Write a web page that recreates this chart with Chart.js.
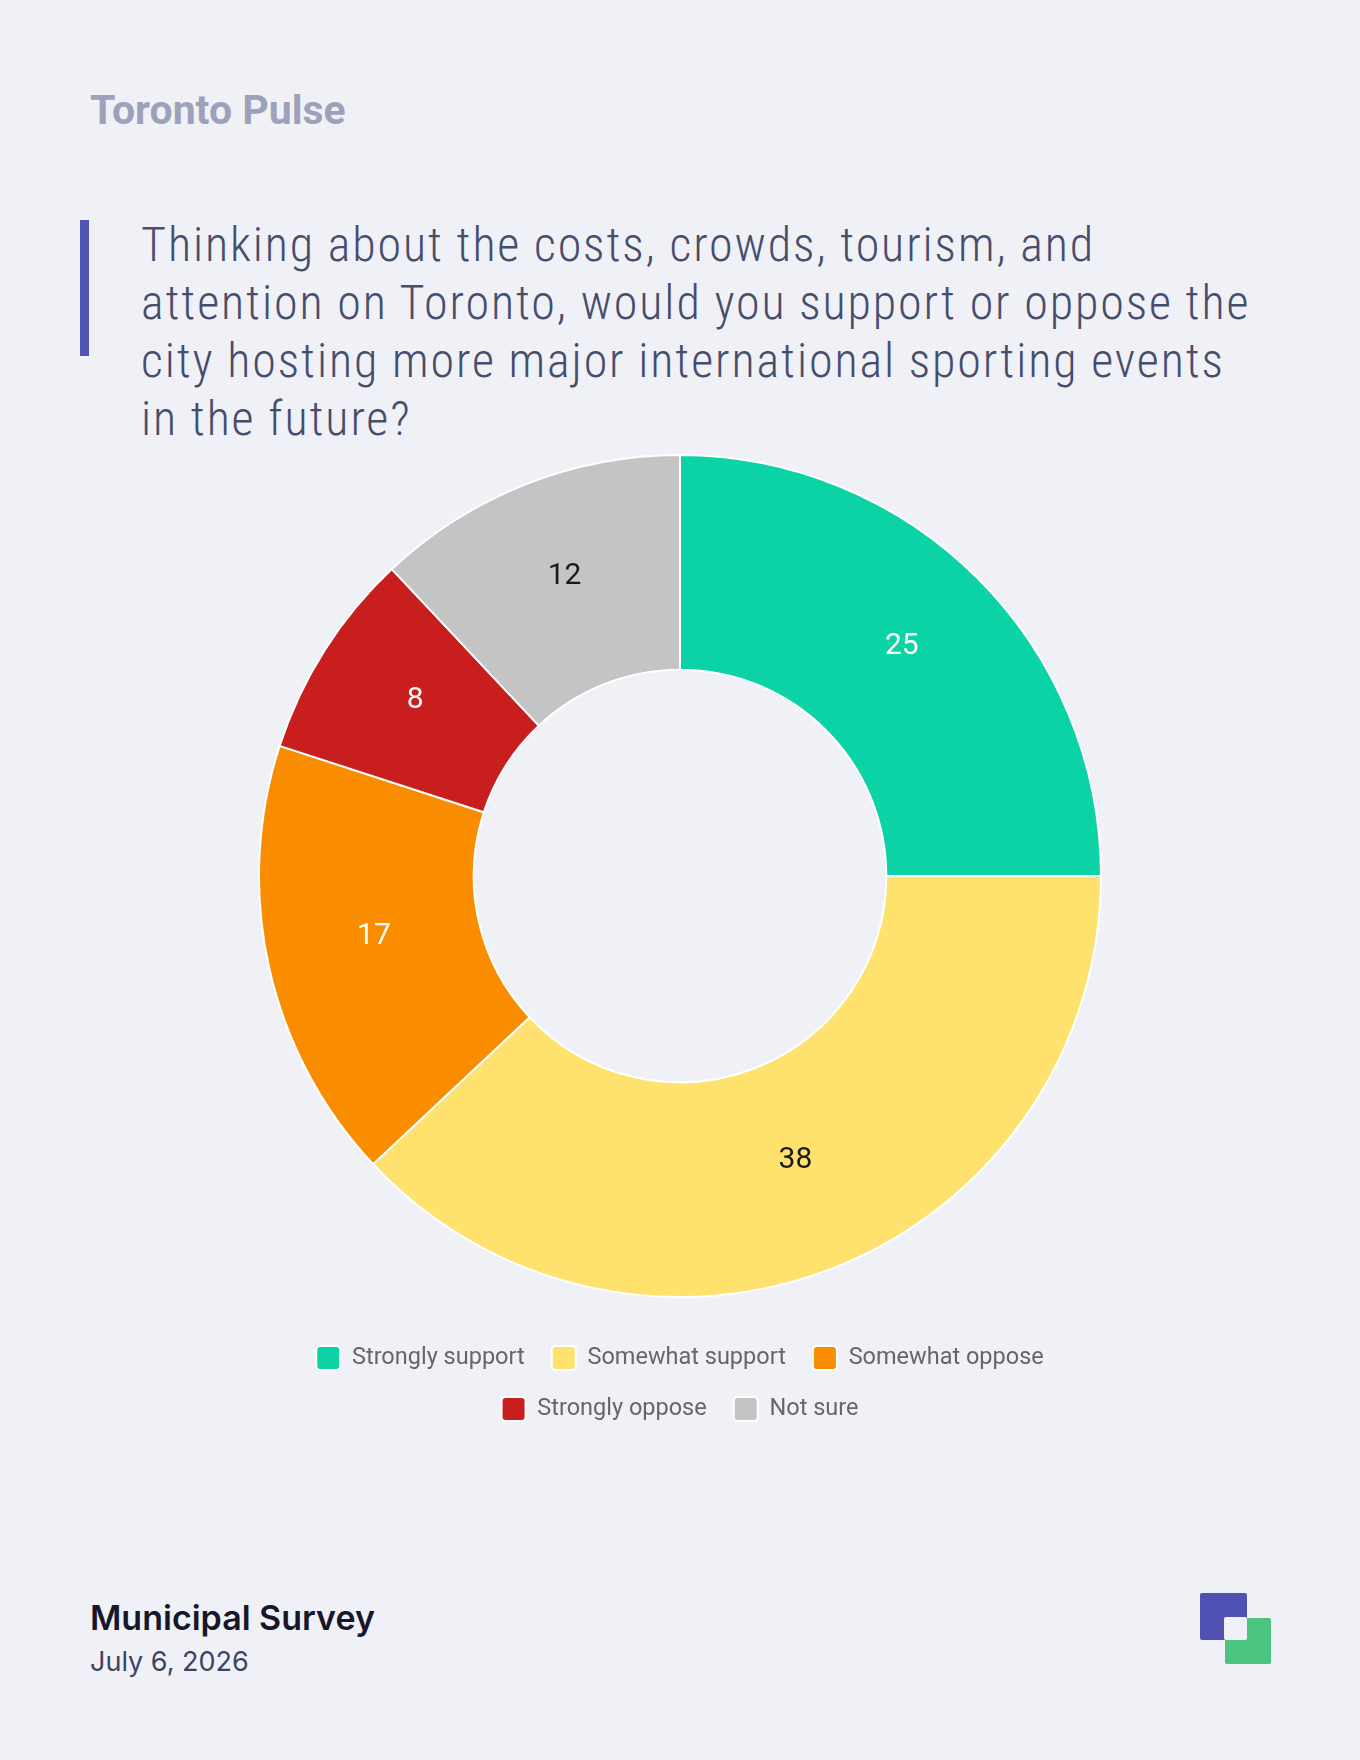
<!DOCTYPE html>
<html>
<head>
<meta charset="utf-8">
<script src="https://cdn.jsdelivr.net/npm/chart.js@4.4.1/dist/chart.umd.min.js"></script>
<style>
  html, body { margin: 0; padding: 0; }
  body { width: 1360px; height: 1760px; background: #f0f1f6; position: relative; overflow: hidden; }
  .brand { position: absolute; left: 90px; top: 90px; font: 700 41px/1 Roboto, sans-serif; color: #9ba2ba; }
  .bar { position: absolute; left: 80px; top: 220px; width: 9px; height: 136px; background: #4f55b5; }
  .question { position: absolute; left: 141px; top: 216px; width: 1180px; font: 300 48px/58px "Roboto Condensed", "DejaVu Sans Condensed", sans-serif; letter-spacing: 1.9px; color: #474d6d; }
  .chart-wrap { position: absolute; left: 258px; top: 433px; width: 844px; height: 998px; }
  .source { position: absolute; left: 90px; top: 1601px; font: 600 34px/1 Inter, sans-serif; color: #16182a; }
  .date { position: absolute; left: 90px; top: 1648px; font: 400 27px/1 Inter, sans-serif; color: #3b4466; }
  .logo-a { position: absolute; left: 1200px; top: 1593px; width: 47px; height: 47px; background: #4f52b2; border-radius: 2px; }
  .logo-b { position: absolute; left: 1225px; top: 1618px; width: 46px; height: 46px; background: #4cc37e; border-radius: 2px; }
  .logo-c { position: absolute; left: 1224px; top: 1617px; width: 23px; height: 23px; background: #f0f1f6; border-radius: 2px; }
</style>
</head>
<body>
<div class="brand">Toronto Pulse</div>
<div class="bar"></div>
<div class="question">Thinking about the costs, crowds, tourism, and<br>attention on Toronto, would you support or oppose the<br>city hosting more major international sporting events<br>in the future?</div>
<div class="chart-wrap"><canvas id="chart"></canvas></div>
<div class="source">Municipal Survey</div>
<div class="date">July 6, 2026</div>
<div class="logo-a"></div>
<div class="logo-b"></div>
<div class="logo-c"></div>
<script>
// data
const categories = ['Strongly support', 'Somewhat support', 'Somewhat oppose', 'Strongly oppose', 'Not sure'];
const values = [25, 38, 17, 8, 12];
const colors = ['#0bd3a5', '#ffe16e', '#fa8c00', '#c81e1e', '#c4c4c4'];
const labelColors = ['#ffffff', '#1a1a1a', '#ffffff', '#ffffff', '#1a1a1a'];

// draw the numbers on each slice (baseline sits on the arc midpoint)
const sliceLabels = {
    id: 'sliceLabels',
    afterDatasetsDraw(chart) {
        const ctx = chart.ctx;
        const meta = chart.getDatasetMeta(0);
        ctx.save();
        ctx.font = '400 30px Roboto, sans-serif';
        ctx.textAlign = 'center';
        ctx.textBaseline = 'alphabetic';
        meta.data.forEach((arc, i) => {
            const pos = arc.tooltipPosition();
            ctx.fillStyle = labelColors[i];
            ctx.fillText(String(values[i]), pos.x, pos.y);
        });
        ctx.restore();
    }
};

const ctx = document.getElementById('chart').getContext('2d');
new Chart(ctx, {
    type: 'doughnut',
    data: {
        labels: categories,
        datasets: [{
            data: values,
            backgroundColor: colors,
            borderColor: '#ffffff',
            borderWidth: 2
        }]
    },
    options: {
        responsive: true,
        maintainAspectRatio: false,
        animation: false,
        cutout: '49%',
        plugins: {
            legend: {
                position: 'bottom',
                labels: {
                    boxWidth: 24,
                    boxHeight: 24,
                    padding: 27,
                    useBorderRadius: true,
                    borderRadius: 4,
                    color: '#666666',
                    font: { family: 'Roboto', size: 23.5 }
                }
            },
            tooltip: { enabled: false }
        }
    },
    plugins: [sliceLabels]
});
</script>
</body>
</html>
